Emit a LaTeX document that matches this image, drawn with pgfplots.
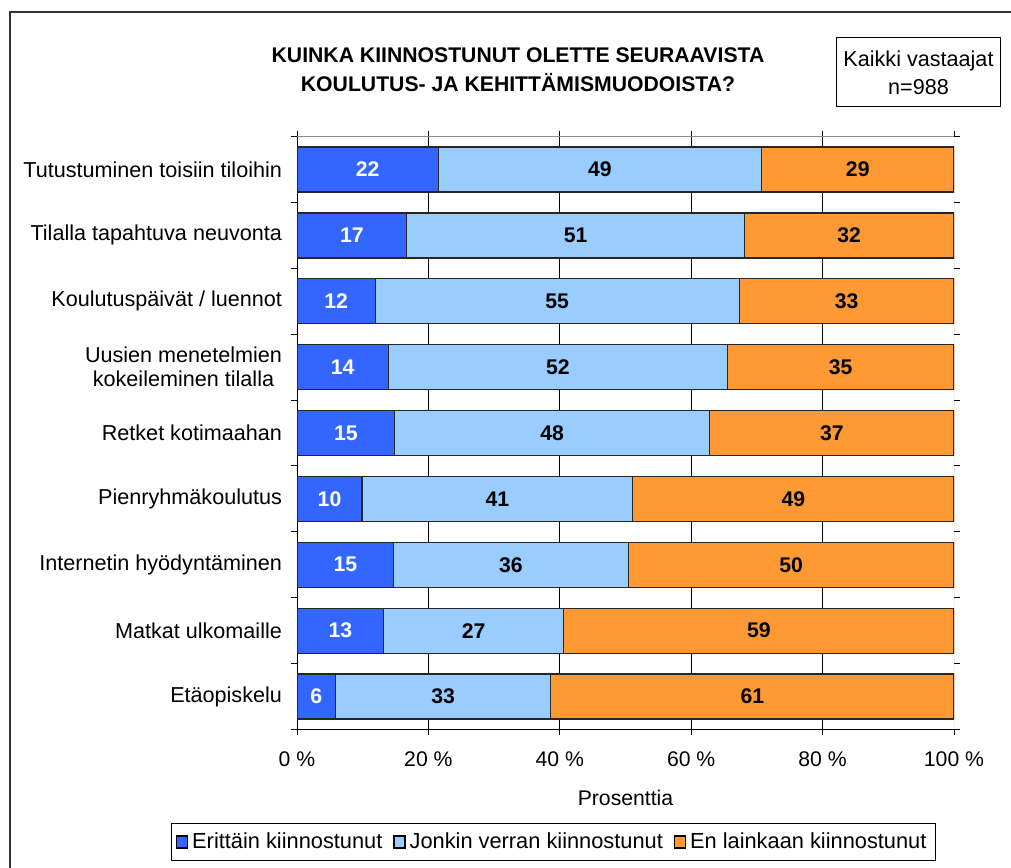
\documentclass[border=0pt]{standalone}
\usepackage{fontspec}
\setmainfont{Liberation Sans}
\usepackage{pgfplots}
\usepackage{pgfplotstable}
\pgfplotsset{compat=1.18}

\definecolor{erit}{HTML}{3366FF}
\definecolor{jonk}{HTML}{99CCFF}
\definecolor{enlai}{HTML}{FF9933}

% pos = row from top, b/lb/o = bar lengths, tb/tlb/to = printed labels
\pgfplotstableread{
pos b    lb   o    tb tlb to
0   21.5 49.2 29.3 22 49  29
1   16.7 51.4 31.9 17 51  32
2   11.9 55.4 32.7 12 55  33
3   13.9 51.6 34.5 14 52  35
4   14.9 47.9 37.2 15 48  37
5   9.9  41.2 48.9 10 41  49
6   14.7 35.7 49.6 15 36  50
7   13.2 27.4 59.4 13 27  59
8   5.9  32.7 61.4 6  33  61
}\kiinnostus

\pgfplotsset{
  kehys/.style={
    at={(148.5pt,68.8pt)}, anchor=south west,
    width=328.5pt, height=296.4pt, scale only axis,
    xmin=0, xmax=100,
    ymin=-0.5, ymax=8.5, y dir=reverse,
  },
}

\begin{document}
\begin{tikzpicture}
\useasboundingbox (0,0) rectangle (505.5pt,433.5pt);
\draw[line width=0.7pt, black!80] (5pt,-2pt) -- (5pt,427.5pt) -- (508pt,427.5pt);

\node[font=\bfseries\fontsize{10.6}{14.5}\selectfont, align=center]
  at (259pt,398.75pt) {KUINKA KIINNOSTUNUT OLETTE SEURAAVISTA\\KOULUTUS- JA KEHITTÄMISMUODOISTA?};
\node[draw, line width=0.5pt, minimum width=78.5pt, minimum height=34.5pt, align=center,
  font=\fontsize{10.8}{14}\selectfont] at (459.25pt,397.25pt) {Kaikki vastaajat\\n=988};

\begin{axis}[
  kehys,
  xbar stacked, bar width=22.5pt,
  axis line style={draw=none},
  tick align=outside, major tick length=3pt,
  tick style={black, line width=0.5pt},
  xtick={0,20,...,100},
  xticklabels={0 \%,20 \%,40 \%,60 \%,80 \%,100 \%},
  extra x ticks={20,40,60,80}, extra x tick labels={},
  extra x tick style={grid=major, major tick length=0pt},
  grid style={black, line width=0.5pt},
  ytick={-0.5,0.5,...,8.5}, yticklabels={},
  extra y ticks={0,...,8},
  extra y tick labels={Tutustuminen toisiin tiloihin, Tilalla tapahtuva neuvonta,
    Koulutuspäivät / luennot, {Uusien menetelmien\\kokeileminen tilalla}, Retket kotimaahan,
    Pienryhmäkoulutus, Internetin hyödyntäminen, Matkat ulkomaille, Etäopiskelu},
  extra y tick style={major tick length=0pt},
  xticklabel style={font=\fontsize{10.6}{12}\selectfont, anchor=center, yshift=-12pt},
  yticklabel style={font=\fontsize{10.8}{12}\selectfont, align=center, anchor=east, xshift=-4pt},
  xlabel={Prosenttia},
  xlabel style={at={(axis description cs:0.5,-0.1156)}, anchor=center,
    font=\fontsize{10.6}{12}\selectfont},
  legend style={at={(0.39,-0.19)}, anchor=center, legend columns=-1, draw=black,
    line width=0.5pt, font=\fontsize{10.9}{12}\selectfont, inner sep=2.5pt,
    /tikz/every even column/.append style={column sep=3.5pt}},
  legend image code/.code={\draw[#1, draw=black, line width=0.6pt] (0pt,-3pt) rectangle (5.5pt,3pt);},
]
\addplot[fill=erit, draw=black!85, line width=0.6pt] table[x=b, y=pos] {\kiinnostus};
\addplot[fill=jonk, draw=black!85, line width=0.6pt] table[x=lb, y=pos] {\kiinnostus};
\addplot[fill=enlai, draw=black!85, line width=0.6pt] table[x=o, y=pos] {\kiinnostus};
\legend{Erittäin kiinnostunut, Jonkin verran kiinnostunut, En lainkaan kiinnostunut}
\draw[black!45, line width=0.5pt] (axis description cs:0,1) -- (axis description cs:1,1) -- (axis description cs:1,0);
\draw[black, line width=0.6pt] (axis description cs:0,1) -- (axis description cs:0,0) -- (axis description cs:1,0);
\end{axis}

% segment labels, centred in each segment
\begin{axis}[
  kehys, hide axis,
  point meta=explicit symbolic,
  nodes near coords,
  every node near coord/.append style={anchor=center, font=\bfseries\fontsize{10.6}{12}\selectfont},
]
\addplot[only marks, mark=*, mark size=0pt, mark options={draw=none, fill=none},
  every node near coord/.append style={text=white}]
  table[x expr=\thisrow{b}/2, y=pos, meta=tb] {\kiinnostus};
\addplot[only marks, mark=*, mark size=0pt, mark options={draw=none, fill=none}]
  table[x expr=\thisrow{b}+\thisrow{lb}/2, y=pos, meta=tlb] {\kiinnostus};
\addplot[only marks, mark=*, mark size=0pt, mark options={draw=none, fill=none}]
  table[x expr=\thisrow{b}+\thisrow{lb}+\thisrow{o}/2, y=pos, meta=to] {\kiinnostus};
\end{axis}
\end{tikzpicture}
\end{document}
